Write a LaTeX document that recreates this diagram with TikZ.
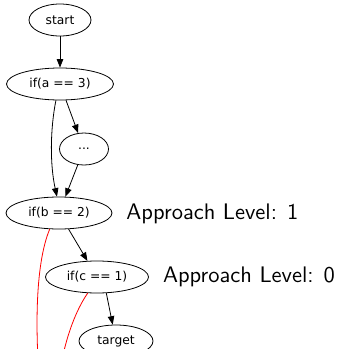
\documentclass[tikz,border=0pt]{standalone}
\usepackage{fontspec}
\newfontfamily\dejavu{DejaVu Sans}
\newfontfamily\lmsansten{lmsans10-regular}[Extension=.otf]
\usetikzlibrary{shapes.geometric,arrows.meta}
\begin{document}
\begin{tikzpicture}[x=1pt,y=-1pt,
  gnode/.style={draw=black,ellipse,line width=0.8pt,inner sep=0pt,minimum height=32pt,font=\dejavu\fontsize{12.3}{14}\selectfont},
  edge/.style={draw=black,line width=0.8pt,-{Triangle[length=8.5pt,width=6.5pt]}},
  redline/.style={draw=red,line width=0.8pt},
  lvl/.style={anchor=base west,inner sep=0pt,font=\lmsansten\fontsize{22.5}{26}\selectfont}]
\useasboundingbox (0,0) rectangle (337,349);
\clip (0,0) rectangle (337,349);
\node[gnode,minimum width=62pt] (start) at (60,20) {start};
\node[gnode,minimum width=107pt] (a) at (60,84) {if(a == 3)};
\node[gnode,minimum width=49pt] (dots) at (84,149) {...};
\node[gnode,minimum width=106pt] (b) at (59,213) {if(b == 2)};
\node[gnode,minimum width=103pt] (c) at (97,277) {if(c == 1)};
\node[gnode,minimum width=74pt] (target) at (116,341) {target};
\node[lvl] (l1) at (126.2,219.7) {Approach Level: 1};
\node[lvl] (l0) at (162.8,282.3) {Approach Level: 0};
\coordinate (r1) at (38,360);
\coordinate (r2) at (62,360);
\draw[edge] (start) -- (a);
\draw[edge] (a) -- (dots);
\draw[edge] (a.256) .. controls (50,130) and (50,165) .. (b.97);
\draw[edge] (dots) -- (b);
\draw[edge] (b) -- (c);
\draw[edge] (c.300) -- (target);
\draw[redline] (b.240) .. controls (39,255) and (35,300) .. (r1);
\draw[redline] (c.240) .. controls (76,310) and (67,335) .. (r2);
\end{tikzpicture}
\end{document}
